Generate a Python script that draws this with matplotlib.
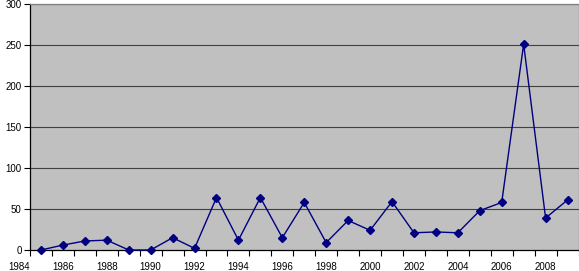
from matplotlib import pyplot as plt

plt.rcParams['font.family'] = ['Liberation Sans', 'DejaVu Sans']

years = [1985, 1986, 1987, 1988, 1989, 1990, 1991, 1992, 1993, 1994, 1995, 1996,
         1997, 1998, 1999, 2000, 2001, 2002, 2003, 2004, 2005, 2006, 2007, 2008, 2009]
counts = [0, 6, 11, 12, 0, 0, 15, 2, 64, 12, 64, 15,
          58, 9, 36, 24, 59, 21, 22, 21, 48, 58, 251, 39, 61]
year_labels = [1984, 1986, 1988, 1990, 1992, 1994, 1996, 1998, 2000, 2002, 2004, 2006, 2008]
y_ticks = [0, 50, 100, 150, 200, 250, 300]

fig = plt.figure(figsize=(5.79, 2.71), dpi=100)
ax = fig.add_axes([30/579, 21/271, 548.5/579, 246/271])
ax.set_facecolor('#c0c0c0')

# grid lines
for v in y_ticks[1:]:
    ax.axhline(v, color='#404040', linewidth=0.8, zorder=1)

ax.plot(years, counts, color='#000080', linewidth=1, marker='D', markersize=3.6,
        markerfacecolor='#000080', markeredgecolor='#000080', zorder=3, clip_on=False)

ax.set_xlim(1984.5, 2009.5)
ax.set_ylim(0, 300)

# tick marks between categories, labels centred on years
ax.set_xticks([1984.5 + i for i in range(26)])
ax.set_xticklabels([])
ax.tick_params(axis='x', direction='out', length=4, width=0.8, color='black')
for yr in year_labels:
    ax.text(yr, -0.05, str(yr), transform=ax.get_xaxis_transform(), ha='center', va='top',
            fontsize=7, clip_on=False)

ax.set_yticks(y_ticks)
ax.set_yticklabels([str(v) for v in y_ticks], fontsize=7)
ax.tick_params(axis='y', direction='out', length=4, width=0.8, color='black', pad=2)

ax.spines['left'].set_color('black')
ax.spines['bottom'].set_color('black')
ax.spines['top'].set_color('#808080')
ax.spines['right'].set_color('#808080')
for s in ax.spines.values():
    s.set_linewidth(0.9)

fig.savefig('out.png', dpi=100)
